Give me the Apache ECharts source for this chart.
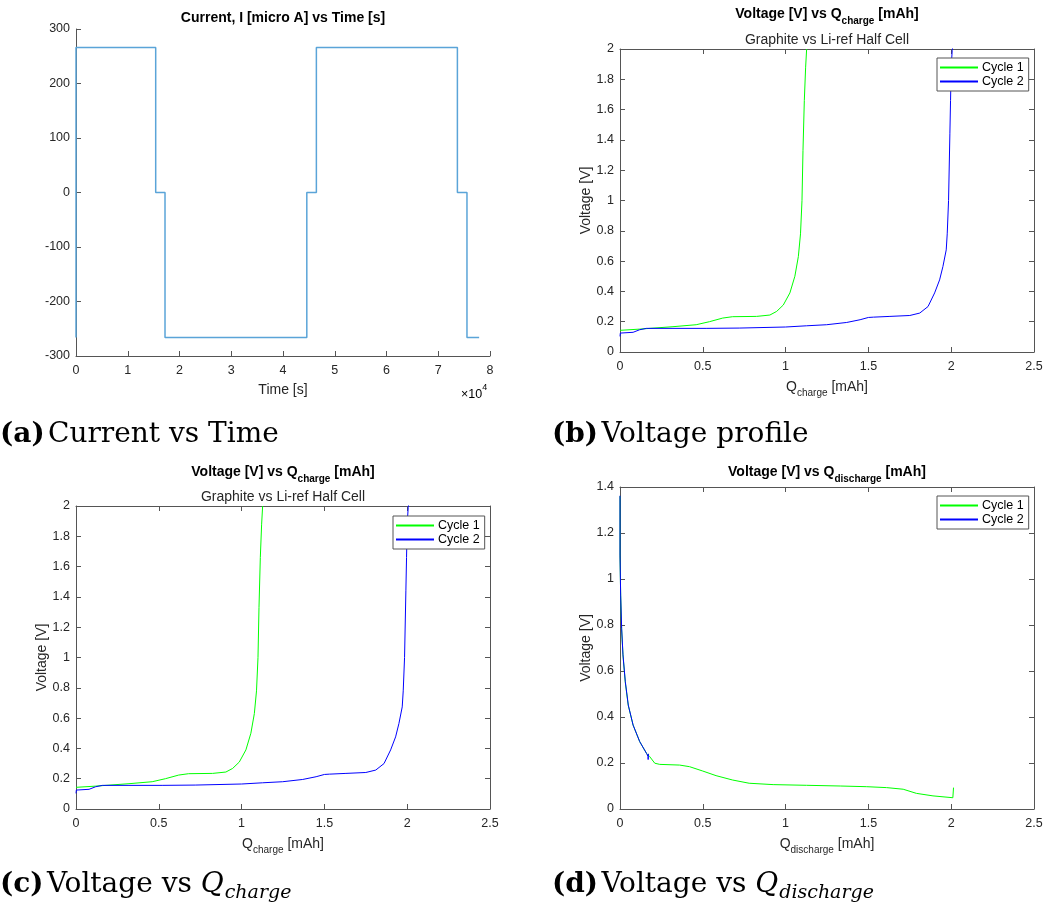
<!DOCTYPE html>
<html>
<head>
<meta charset="utf-8">
<script src="https://cdn.jsdelivr.net/npm/echarts@6/dist/echarts.min.js"></script>
<style>
html,body{margin:0;padding:0;background:#fff;}
#main{width:1048px;height:912px;}
</style>
</head>
<body>
<div id="main"></div>
<script>
// ---- Data ----
// (a) Current vs time, step profile
const currentTime = [0, 0, 15400, 15400, 17200, 17200, 44600, 44600, 46450, 46450, 73700, 73700, 75550, 75550, 77900];
const currentValue = [-266, 266, 266, 0, 0, -266, -266, 0, 0, 266, 266, 0, 0, -266, -266];

// (b)/(c) Voltage vs Q_charge
const chargeQ1 = [0, 0.119, 0.32, 0.46, 0.54, 0.62, 0.68, 0.825, 0.905, 0.946, 0.986, 1.026, 1.056, 1.077, 1.09, 1.099, 1.105, 1.113, 1.121, 1.127];
const chargeV1 = [0.143, 0.151, 0.167, 0.18, 0.20, 0.224, 0.233, 0.235, 0.244, 0.268, 0.31, 0.39, 0.50, 0.63, 0.78, 1.0, 1.33, 1.66, 1.88, 2.0];
const chargeQ2 = [0, 0.002, 0.079, 0.119, 0.16, 0.32, 0.52, 0.72, 1.0, 1.127, 1.248, 1.369, 1.45, 1.5, 1.53, 1.63, 1.75, 1.81, 1.86, 1.90, 1.93, 1.95, 1.97, 1.976, 1.984, 1.992, 1.996, 2.0, 2.006, 2.01];
const chargeV2 = [0.103, 0.125, 0.13, 0.147, 0.156, 0.156, 0.156, 0.158, 0.165, 0.173, 0.18, 0.195, 0.213, 0.228, 0.23, 0.235, 0.241, 0.257, 0.30, 0.39, 0.476, 0.564, 0.674, 0.78, 1.0, 1.44, 1.66, 1.88, 1.99, 2.02];

// (d) Voltage vs Q_discharge
const dischargeQ1 = [0, 0, 0.004, 0.01, 0.018, 0.032, 0.05, 0.079, 0.119, 0.16, 0.179, 0.21, 0.24, 0.36, 0.42, 0.50, 0.58, 0.68, 0.78, 0.925, 1.127, 1.33, 1.49, 1.61, 1.71, 1.79, 1.89, 2.01, 2.014];
const dischargeV1 = [1.36, 1.10, 0.93, 0.78, 0.67, 0.55, 0.45, 0.365, 0.293, 0.242, 0.228, 0.199, 0.194, 0.191, 0.184, 0.165, 0.145, 0.126, 0.112, 0.106, 0.103, 0.10, 0.097, 0.093, 0.086, 0.068, 0.057, 0.049, 0.093];
const dischargeQ2 = [0, 0, 0.004, 0.01, 0.018, 0.032, 0.05, 0.079, 0.119, 0.16, 0.169, 0.17, 0.172];
const dischargeV2 = [1.362, 1.104, 0.93, 0.785, 0.67, 0.554, 0.452, 0.365, 0.293, 0.242, 0.228, 0.215, 0.24];

const seriesNames = ['Cycle 1', 'Cycle 2'];
const seriesColors = ['#00ff00', '#0000ff'];

// ---- Helpers ----
const pairs = (xs, ys) => xs.map((x, i) => [x, ys[i]]);
const SANS = '"Liberation Sans", Arial, Helvetica, sans-serif';
const SERIF = '"DejaVu Serif", "Liberation Serif", serif';
const AX = '#555555';
const TXT = '#262626';

function mainX(grid, min, max, interval, extra) {
  return Object.assign({
    type: 'value', gridIndex: grid, min, max, interval, position: 'bottom',
    axisLine: { show: true, onZero: false, lineStyle: { color: AX, width: 1 } },
    axisTick: { show: true, inside: true, length: 5, lineStyle: { color: AX } },
    axisLabel: { show: true, color: TXT, fontFamily: SANS, fontSize: 12.5, margin: 8 },
    splitLine: { show: false },
    nameLocation: 'middle', nameGap: 30,
    nameTextStyle: { color: TXT, fontFamily: SANS, fontSize: 14 }
  }, extra || {});
}
function mainY(grid, min, max, interval, extra) {
  return Object.assign({
    type: 'value', gridIndex: grid, min, max, interval, position: 'left',
    axisLine: { show: true, onZero: false, lineStyle: { color: AX, width: 1 } },
    axisTick: { show: true, inside: true, length: 5, lineStyle: { color: AX } },
    axisLabel: { show: true, color: TXT, fontFamily: SANS, fontSize: 12.5, margin: 6 },
    splitLine: { show: false },
    nameLocation: 'middle', nameGap: 30, nameRotate: 90,
    nameTextStyle: { color: TXT, fontFamily: SANS, fontSize: 14 }
  }, extra || {});
}
function boxX(grid, min, max, interval) {
  return {
    type: 'value', gridIndex: grid, min, max, interval, position: 'top',
    axisLine: { show: true, onZero: false, lineStyle: { color: AX, width: 1 } },
    axisTick: { show: true, inside: true, length: 5, lineStyle: { color: AX } },
    axisLabel: { show: false }, splitLine: { show: false }
  };
}
function boxY(grid, min, max, interval) {
  return {
    type: 'value', gridIndex: grid, min, max, interval, position: 'right',
    axisLine: { show: true, onZero: false, lineStyle: { color: AX, width: 1 } },
    axisTick: { show: true, inside: true, length: 5, lineStyle: { color: AX } },
    axisLabel: { show: false }, splitLine: { show: false }
  };
}
const subRich = (bold, size, subSize, pad) => ({
  m: { fontFamily: SANS, fontSize: size, fontWeight: bold ? 'bold' : 'normal', color: bold ? '#000' : TXT, verticalAlign: 'top', lineHeight: size + 2 },
  s: { fontFamily: SANS, fontSize: subSize, fontWeight: bold ? 'bold' : 'normal', color: bold ? '#000' : TXT, verticalAlign: 'top', lineHeight: subSize + 2, padding: [pad, 0, 0, 0] }
});
function line(name, color, xi, yi, data) {
  return {
    type: 'line', name, xAxisIndex: xi, yAxisIndex: yi, data,
    symbol: 'none', showSymbol: false, clip: true, animation: false,
    lineStyle: { color, width: 1 }, itemStyle: { color }
  };
}
function legendAt(left, top) {
  return {
    data: seriesNames.map((n, i) => ({ name: n, icon: 'rect', itemStyle: { color: seriesColors[i], borderWidth: 0, opacity: 1 } })),
    orient: 'vertical', left, top,
    backgroundColor: '#fff', borderColor: AX, borderWidth: 1,
    padding: [3, 5, 3, 3], itemGap: 1, itemWidth: 38, itemHeight: 2,
    textStyle: { fontFamily: SANS, fontSize: 12.5, color: '#000', padding: [0, 0, 0, -1] },
    selectedMode: false
  };
}

const chargeTitle = '{m|Voltage [V] vs Q}{s|charge}{m| [mAh]}';
const dischargeTitle = '{m|Voltage [V] vs Q}{s|discharge}{m| [mAh]}';

const capRich = {
  b: { fontFamily: SERIF, fontSize: 28, fontWeight: 'bold', color: '#000', verticalAlign: 'top', lineHeight: 33 },
  r: { fontFamily: SERIF, fontSize: 28, color: '#000', verticalAlign: 'top', lineHeight: 33 },
  i: { fontFamily: SERIF, fontSize: 28, fontStyle: 'italic', color: '#000', verticalAlign: 'top', lineHeight: 33 },
  s: { fontFamily: SERIF, fontSize: 19, fontStyle: 'italic', color: '#000', verticalAlign: 'top', lineHeight: 22, padding: [13, 0, 0, 1] }
};

const option = {
  backgroundColor: '#fff',
  animation: false,
  title: [
    { text: 'Current, I [micro A] vs Time [s]', left: 283, top: 11, textAlign: 'center', padding: 0,
      textStyle: { fontFamily: SANS, fontSize: 14, fontWeight: 'bold', color: '#000' } },
    { text: chargeTitle, subtext: 'Graphite vs Li-ref Half Cell', left: 827, top: 7, textAlign: 'center', padding: 0, itemGap: 7,
      textStyle: { rich: subRich(true, 14, 10, 9) },
      subtextStyle: { fontFamily: SANS, fontSize: 14, color: TXT } },
    { text: chargeTitle, subtext: 'Graphite vs Li-ref Half Cell', left: 283, top: 465, textAlign: 'center', padding: 0, itemGap: 6,
      textStyle: { rich: subRich(true, 14, 10, 9) },
      subtextStyle: { fontFamily: SANS, fontSize: 14, color: TXT } },
    { text: dischargeTitle, left: 827, top: 465, textAlign: 'center', padding: 0,
      textStyle: { rich: subRich(true, 14, 10, 9) } }
  ],
  grid: [
    { left: 76, top: 29, width: 414, height: 327 },
    { left: 620, top: 49, width: 414, height: 303 },
    { left: 76, top: 506, width: 414, height: 303 },
    { left: 620, top: 487, width: 414, height: 322 }
  ],
  xAxis: [
    mainX(0, 0, 80000, 10000, { name: 'Time [s]', nameGap: 27, axisLabel: { show: true, color: TXT, fontFamily: SANS, fontSize: 12.5, margin: 8, formatter: v => String(v / 10000) } }),
    mainX(1, 0, 2.5, 0.5, { name: '{m|Q}{s|charge}{m| [mAh]}', nameGap: 28, nameTextStyle: { rich: subRich(false, 14, 10, 8) } }),
    boxX(1, 0, 2.5, 0.5),
    mainX(2, 0, 2.5, 0.5, { name: '{m|Q}{s|charge}{m| [mAh]}', nameGap: 28, nameTextStyle: { rich: subRich(false, 14, 10, 8) } }),
    boxX(2, 0, 2.5, 0.5),
    mainX(3, 0, 2.5, 0.5, { name: '{m|Q}{s|discharge}{m| [mAh]}', nameGap: 28, nameTextStyle: { rich: subRich(false, 14, 10, 8) } }),
    boxX(3, 0, 2.5, 0.5)
  ],
  yAxis: [
    mainY(0, -300, 300, 100),
    mainY(1, 0, 2, 0.2, { name: 'Voltage [V]', nameGap: 26 }),
    boxY(1, 0, 2, 0.2),
    mainY(2, 0, 2, 0.2, { name: 'Voltage [V]', nameGap: 26 }),
    boxY(2, 0, 2, 0.2),
    mainY(3, 0, 1.4, 0.2, { name: 'Voltage [V]', nameGap: 26 }),
    boxY(3, 0, 1.4, 0.2)
  ],
  legend: [legendAt(937, 58), legendAt(393, 516), legendAt(937, 496)],
  series: [
    { type: 'line', name: 'Current', xAxisIndex: 0, yAxisIndex: 0, data: pairs(currentTime, currentValue),
      symbol: 'none', clip: true, lineStyle: { color: '#5aa4d8', width: 1.5 }, itemStyle: { color: '#5aa4d8' } },
    line(seriesNames[0], seriesColors[0], 1, 1, pairs(chargeQ1, chargeV1)),
    line(seriesNames[1], seriesColors[1], 1, 1, pairs(chargeQ2, chargeV2)),
    line(seriesNames[0], seriesColors[0], 3, 3, pairs(chargeQ1, chargeV1)),
    line(seriesNames[1], seriesColors[1], 3, 3, pairs(chargeQ2, chargeV2)),
    line(seriesNames[0], seriesColors[0], 5, 5, pairs(dischargeQ1, dischargeV1)),
    line(seriesNames[1], seriesColors[1], 5, 5, pairs(dischargeQ2, dischargeV2))
  ],
  graphic: [
    { type: 'text', left: 461, top: 383, style: {
        text: '{t|×10}{p|4}',
        rich: {
          t: { fontFamily: SANS, fontSize: 12.5, color: TXT, verticalAlign: 'top', padding: [5, 0, 0, 0] },
          p: { fontFamily: SANS, fontSize: 9, color: TXT, verticalAlign: 'top' }
        } } },
    { type: 'text', left: 0, top: 421, style: { text: '{b|(a)} {r|Current vs Time}', rich: capRich } },
    { type: 'text', left: 552, top: 421, style: { text: '{b|(b)} {r|Voltage profile}', rich: capRich } },
    { type: 'text', left: 0, top: 871, style: { text: '{b|(c)} {r|Voltage vs }{i|Q}{s|charge}', rich: capRich } },
    { type: 'text', left: 552, top: 871, style: { text: '{b|(d)} {r|Voltage vs }{i|Q}{s|discharge}', rich: capRich } }
  ]
};

const chart = echarts.init(document.getElementById('main'), null, { renderer: 'canvas' });
chart.setOption(option);
</script>
</body>
</html>
